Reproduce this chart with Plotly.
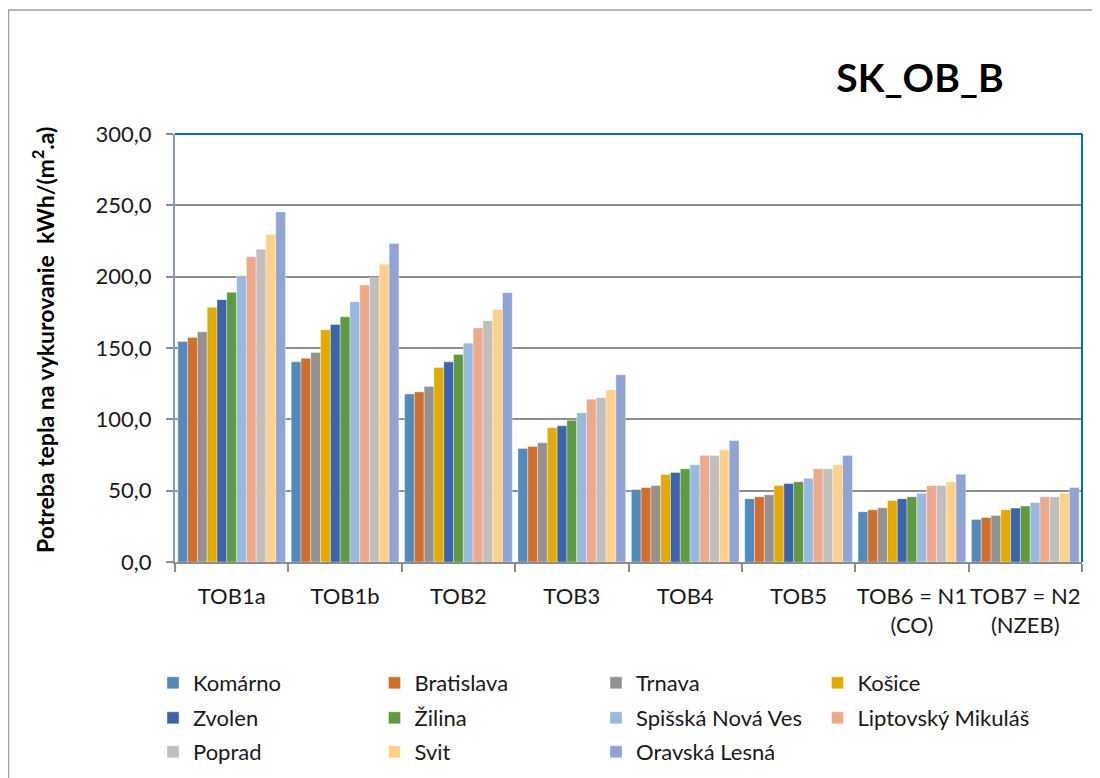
import plotly.graph_objects as go

categories = ["TOB1a", "TOB1b", "TOB2", "TOB3", "TOB4", "TOB5", "TOB6 = N1<br>(CO)", "TOB7 = N2<br>(NZEB)"]

komarno = [154.6, 140.3, 117.8, 79.6, 50.8, 44.3, 35.2, 29.8]
bratislava = [157.4, 142.8, 119.2, 81.0, 52.2, 45.7, 36.6, 31.2]
trnava = [161.4, 146.8, 123.0, 83.6, 53.6, 47.1, 38.0, 32.6]
kosice = [178.5, 162.8, 136.3, 94.1, 61.3, 53.6, 43.1, 36.6]
zvolen = [183.9, 166.5, 140.3, 95.5, 62.7, 55.0, 44.3, 37.8]
zilina = [189.0, 171.9, 145.4, 99.3, 65.3, 56.2, 45.7, 39.2]
spisska = [200.7, 182.5, 153.4, 104.7, 68.1, 58.7, 48.2, 41.7]
liptovsky = [214.0, 194.1, 164.0, 114.0, 74.6, 65.3, 53.6, 45.7]
poprad = [219.2, 199.3, 169.1, 115.2, 74.6, 65.3, 53.6, 45.7]
svit = [229.7, 208.7, 177.0, 120.6, 78.6, 68.1, 56.2, 48.2]
oravska = [245.4, 223.2, 188.8, 131.2, 85.1, 74.6, 61.5, 52.2]

series_names = ["Komárno", "Bratislava", "Trnava", "Košice", "Zvolen", "Žilina",
                "Spišská Nová Ves", "Liptovský Mikuláš", "Poprad", "Svit", "Oravská Lesná"]
series_values = [komarno, bratislava, trnava, kosice, zvolen, zilina,
                 spisska, liptovsky, poprad, svit, oravska]
series_colors = ["#508BBE", "#D36E2A", "#929292", "#E3AB00", "#3C64AE", "#5F9A3C",
                 "#97B9E0", "#F0A88A", "#BFBFBF", "#FFD085", "#8FA4D4"]
legend_ids = ["legend"] * 4 + ["legend2"] * 4 + ["legend3"] * 3

FONT = "Lato"
OFF = 8  # page body margin in the browser
W, H = 1100 - OFF, 778 - OFF
L, R, T, B = 175 - OFF, 18, 134 - OFF, 216
PW = W - L - R
PH = H - T - B


def px_x(p):
    # p: screen pixel x
    return (p - OFF - L) / PW


def px_y(p):
    # p: screen pixel y
    return (H - B - (p - OFF)) / PH


fig = go.Figure()
for name, vals, col, lg in zip(series_names, series_values, series_colors, legend_ids):
    fig.add_trace(go.Bar(
        x=categories, y=vals, name=name, legend=lg,
        marker=dict(color=col, line=dict(color="rgba(255,255,255,0.6)", width=0.6)),
    ))

leg_common = dict(
    orientation="h", xanchor="left", yanchor="middle",
    x=px_x(153), entrywidth=176.5, entrywidthmode="pixels",
    font=dict(family=FONT, size=22, color="#1a1a1a"),
    bgcolor="rgba(0,0,0,0)", itemclick=False, itemdoubleclick=False,
    tracegroupgap=0,
)

fig.update_layout(
    width=W, height=H, autosize=False,
    margin=dict(l=L, r=R, t=T, b=B, autoexpand=False),
    paper_bgcolor="white", plot_bgcolor="white",
    separators=",.",
    barmode="group", bargap=0.05, bargroupgap=0,
    font=dict(family=FONT, color="#1a1a1a"),
    title=dict(text="<b>SK_OB_B</b>", x=(920 - OFF) / W, y=1 - (78 - OFF) / H,
               xanchor="center", yanchor="middle",
               font=dict(family=FONT, size=39, color="#000000")),
    legend=dict(leg_common, y=px_y(683)),
    legend2=dict(leg_common, y=px_y(718)),
    legend3=dict(leg_common, y=px_y(752)),
    xaxis=dict(
        type="category", tickson="boundaries", ticks="outside", ticklen=8,
        tickcolor="#8C8C8C", tickwidth=2, tickangle=0,
        showline=True, linecolor="#8C8C8C", linewidth=2,
        showgrid=False, tickfont=dict(family=FONT, size=22, color="#1a1a1a"),
        ticklabelstandoff=14,
    ),
    yaxis=dict(
        range=[0, 300], tickvals=[0, 50, 100, 150, 200, 250, 300], tickformat=".1f",
        ticks="outside", ticklen=7, tickcolor="#8C8C8C", tickwidth=2,
        showline=True, linecolor="#8A9BB0", linewidth=2,
        showgrid=True, gridcolor="#8E8E8E", gridwidth=1.5, zeroline=False,
        tickfont=dict(family=FONT, size=22, color="#1a1a1a"),
        ticklabelstandoff=10,
    ),
    annotations=[dict(
        text="<b>Potreba tepla na vykurovanie  kWh/(m<sup>2</sup>.a)</b>",
        xref="paper", yref="paper", x=px_x(43), y=px_y(340),
        xanchor="center", yanchor="middle", textangle=-90, showarrow=False,
        font=dict(family=FONT, size=23, color="#000000"),
    )],
    shapes=[
        dict(type="line", xref="x domain", yref="y domain", x0=0, x1=1, y0=1, y1=1,
             line=dict(color="#0070C0", width=2)),
        dict(type="line", xref="x domain", yref="y domain", x0=1, x1=1, y0=0, y1=1,
             line=dict(color="#0070C0", width=2)),
        dict(type="rect", xref="paper", yref="paper",
             x0=px_x(8.5), x1=px_x(1110), y0=px_y(800), y1=px_y(10),
             line=dict(color="#A0A0A0", width=1.5), fillcolor="rgba(0,0,0,0)", layer="below"),
    ],
)

fig.write_html("out.html")
